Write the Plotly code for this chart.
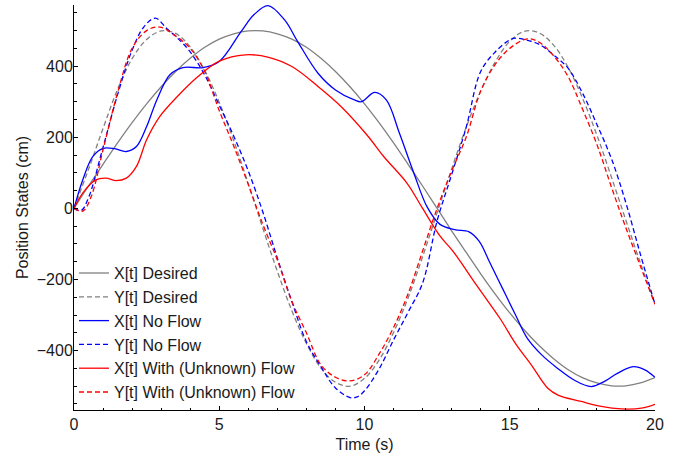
import plotly.graph_objects as go

# ---------------- data ----------------
T_DES = [0, 0.5, 1, 1.5, 2, 2.5, 3, 3.5, 4, 4.5, 5, 5.5, 6, 6.5, 7, 7.5, 8, 8.5, 9, 9.5,
         10, 10.5, 11, 11.5, 12, 12.5, 13, 13.5, 14, 14.5, 15, 15.5, 16, 16.5, 17, 17.5,
         18, 18.5, 19, 19.5, 20]
X_DES = [0, 63, 124, 184, 241, 294, 342, 385, 422, 453, 476, 491, 499, 499, 491, 476, 453,
         422, 385, 342, 294, 241, 184, 124, 63, 0, -63, -124, -184, -241, -294, -342, -385,
         -422, -453, -476, -491, -499, -499, -491, -476]
Y_DES = [0, 110, 225, 335, 421, 475, 499, 492, 454, 388, 298, 190, 69, -56, -177, -288, -380,
         -449, -489, -500, -478, -427, -349, -252, -136, -12, 111, 228, 330, 412, 470, 498,
         494, 460, 398, 311, 206, 88, -34, -154, -268]

T_X_NF = [0, 0.3, 0.65, 1.0, 1.4, 1.8, 2.15, 2.5, 2.85, 3.3, 3.75, 4.45, 5.0, 5.75, 6.2, 6.68,
          7.25, 7.7, 8.4, 9.0, 9.65, 9.9, 10.35, 10.75, 11.2, 11.7, 12.15, 12.6, 13.1, 13.6,
          13.95, 14.3, 14.75, 15.2, 15.6, 16.1, 16.65, 17.2, 17.8, 18.25, 18.7, 19.25, 19.65, 20]
X_NF = [0, 80, 146, 169, 168, 160, 174, 230, 305, 376, 396, 396, 413, 497, 545, 570,
        530, 469, 380, 333, 305, 300, 326, 305, 212, 99, 5, -45, -60, -66,
        -93, -150, -225, -300, -365, -412, -450, -482, -501, -487, -464, -445, -454, -475]

T_Y_NF = [0, 0.25, 0.5, 1, 1.5, 2, 2.4, 2.8, 3.2, 3.6, 4, 4.5, 5, 5.5, 6, 6.5, 7, 7.5, 8, 8.5,
          9, 9.5, 9.75, 10, 10.5, 11, 11.5, 12, 12.5, 13, 13.5, 14, 14.5, 15, 15.2, 15.5, 16,
          16.5, 17, 17.5, 18, 18.5, 19, 19.5, 20]
Y_NF = [0, -6, 30, 172, 320, 445, 510, 535, 505, 476, 440, 375, 290, 203, 105, -10, -140, -262,
        -375, -445, -505, -532, -530, -513, -452, -370, -292, -210, -35, 95, 228, 385, 440,
        474, 479, 475, 462, 432, 395, 325, 236, 140, 15, -130, -270]

T_X_WF = [0, 0.3, 0.75, 1.1, 1.45, 1.8, 2.15, 2.5, 2.95, 3.55, 4.2, 5.0, 5.9, 6.7, 7.5, 8.4,
          9.2, 10.1, 10.66, 11.46, 12.0, 12.61, 13.05, 13.85, 14.66, 15.23, 15.74, 16.31,
          16.66, 17.46, 18.15, 18.84, 19.53, 20]
X_WF = [0, 43, 80, 85, 78, 85, 118, 193, 258, 314, 366, 414, 432, 425, 399, 343,
        286, 205, 146, 71, 0, -79, -121, -215, -309, -384, -440, -506,
        -525, -543, -557, -564, -562, -551]

T_Y_WF = [0, 0.3, 0.6, 1, 1.5, 2, 2.5, 2.95, 3.5, 4, 4.5, 5, 5.5, 6, 6.5, 7, 7.5, 8, 8.5, 9,
          9.5, 10, 10.5, 11, 11.5, 12, 12.5, 13, 13.5, 14, 14.5, 15, 15.6, 16, 16.5, 17, 17.5,
          18, 18.5, 19, 19.5, 20]
Y_WF = [0, -8, 35, 165, 325, 450, 500, 510, 485, 450, 385, 275, 175, 67, -45, -145, -262,
        -350, -440, -475, -485, -468, -410, -335, -240, -120, 0, 105, 200, 330, 405, 450,
        477, 468, 430, 372, 280, 180, 60, -55, -163, -270]

NAMES = ["X[t] Desired", "Y[t] Desired", "X[t] No Flow", "Y[t] No Flow",
         "X[t] With (Unknown) Flow", "Y[t] With (Unknown) Flow"]

X_TICKS = [0, 5, 10, 15, 20]
Y_TICKS = [-400, -200, 0, 200, 400]

# ---------------- figure ----------------
GRAY, BLUE, RED = "#808080", "#0000ff", "#ff0000"
DASH = "5px,3px"
series = [
    (T_DES, X_DES, GRAY, "solid"),
    (T_DES, Y_DES, GRAY, DASH),
    (T_X_NF, X_NF, BLUE, "solid"),
    (T_Y_NF, Y_NF, BLUE, DASH),
    (T_X_WF, X_WF, RED, "solid"),
    (T_Y_WF, Y_WF, RED, DASH),
]

fig = go.Figure()
for i, ((tt, vv, col, dash), name) in enumerate(zip(series, NAMES)):
    fig.add_trace(go.Scatter(
        x=tt, y=vv, mode="lines", name=name, legendgroup=f"g{i}",
        line=dict(color=col, width=1.3, dash=dash, shape="spline", smoothing=1.0),
    ))

FONT = "Liberation Sans, Arial, sans-serif"
TXT = "#1a1a1a"
FS = 16

fig.update_layout(
    width=681, height=464,
    margin=dict(l=74, r=26, t=5, b=54),
    paper_bgcolor="white", plot_bgcolor="white",
    font=dict(family=FONT, size=FS, color=TXT),
    showlegend=True,
    legend=dict(
        x=0.0, y=0.38, xanchor="left", yanchor="top",
        bgcolor="rgba(0,0,0,0)", borderwidth=0,
        font=dict(family=FONT, size=FS, color=TXT),
        traceorder="grouped", tracegroupgap=0,
    ),
)
fig.update_xaxes(
    range=[0, 20], tickvals=X_TICKS, showgrid=False, zeroline=False,
    showline=True, linecolor="black", linewidth=1, automargin=False,
    ticks="inside", ticklen=4, tickcolor="black",
    minor=dict(dtick=1, ticks="inside", ticklen=2.5, tickcolor="black"),
    title=dict(text="Time (s)", standoff=6, font=dict(size=FS)),
    tickfont=dict(size=FS),
)
fig.update_yaxes(
    range=[-567, 572], tickvals=Y_TICKS, showgrid=False, zeroline=False,
    showline=True, linecolor="black", linewidth=1, automargin=False,
    ticks="inside", ticklen=4, tickcolor="black", ticklabelstandoff=-3,
    minor=dict(dtick=50, ticks="inside", ticklen=2.5, tickcolor="black"),
    title=dict(text="Position States (cm)", standoff=4, font=dict(size=FS)),
    tickfont=dict(size=FS),
)

fig.write_html("out.html", config={"displayModeBar": False},
               post_script="document.body.style.margin='0px';")
